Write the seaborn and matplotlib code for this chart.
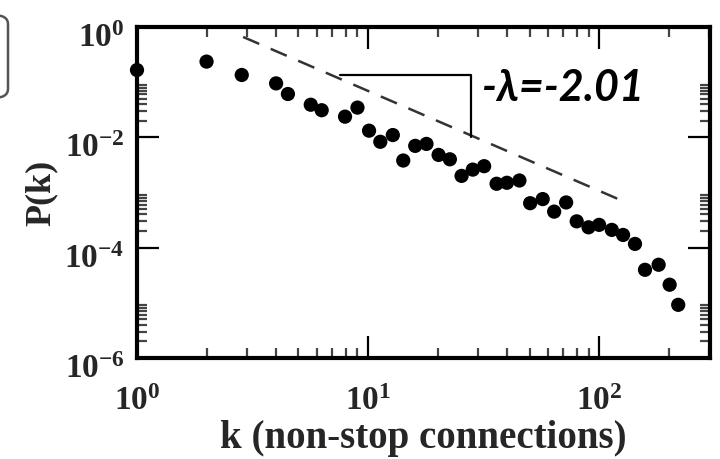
import numpy as np
import pandas as pd
import matplotlib
matplotlib.use("Agg")
import matplotlib.pyplot as plt
from matplotlib.patches import FancyBboxPatch
import matplotlib.transforms as mtrans
import seaborn as sns

# ---- data ----
k_vals = [1.0, 2.0, 2.84, 4.0, 4.5, 5.65, 6.3, 7.95, 9.0, 10.1, 11.3, 12.8, 14.2,
          16.0, 17.9, 20.2, 22.6, 25.4, 28.4, 31.8, 36.0, 39.9, 45.2, 50.3, 57.0,
          63.9, 72.0, 80.0, 90.0, 100.0, 113.5, 127.0, 143.0, 158.0, 181.0, 202.0, 220.0]
p_vals = [0.166, 0.236, 0.135, 0.095, 0.061, 0.039, 0.031, 0.0237, 0.0346, 0.0132,
          0.0083, 0.011, 0.0038, 0.0070, 0.0076, 0.0048, 0.0040, 0.0020, 0.0026,
          0.0030, 0.00144, 0.0015, 0.00165, 0.00064, 0.00076, 0.00045, 0.00066,
          0.00030, 0.000234, 0.000259, 0.00021, 0.00017, 0.000117, 0.0000397,
          0.000049, 0.0000213, 0.0000092]

guide_k = [2.88, 132.0]          # dashed power-law guide
guide_p = [0.66, 6.5e-4]
tri_k = [7.57, 27.9, 27.9]       # slope triangle legs
tri_p = [0.135, 0.135, 0.0102]
slope_label = "-λ=-2.01"

x_major = [1, 10, 100]
x_labels = [r"$\mathbf{10^{0}}$", r"$\mathbf{10^{1}}$", r"$\mathbf{10^{2}}$"]
y_major = [1e-6, 1e-4, 1e-2, 1e0]
y_labels = [r"$\mathbf{10^{-6}}$", r"$\mathbf{10^{-4}}$", r"$\mathbf{10^{-2}}$", r"$\mathbf{10^{0}}$"]
x_label = "k (non-stop connections)"
y_label = "P(k)"

df = pd.DataFrame({"k": k_vals, "P": p_vals})

sns.set_theme(style="ticks")
plt.rcParams["mathtext.fontset"] = "custom"
plt.rcParams["mathtext.rm"] = "Liberation Serif:bold"
plt.rcParams["mathtext.bf"] = "Liberation Serif:bold"
plt.rcParams["mathtext.it"] = "Liberation Serif:bold:italic"

fig = plt.figure(figsize=(7.2, 4.59), dpi=100)
ax = fig.add_axes([137/720, 1 - 358/459, (710-137)/720, (358-27)/459])

ax.set_xscale("log")
ax.set_yscale("log")

sns.scatterplot(data=df, x="k", y="P", ax=ax, color="black", s=105,
                edgecolor="none", linewidth=0, zorder=3, clip_on=False)

ax.plot(guide_k, guide_p, color="#333333", lw=1.8, dashes=(7, 5))
ax.plot(tri_k, tri_p, color="black", lw=1.6)

ax.text(0.602, 0.875, slope_label, transform=ax.transAxes,
        family=["Lato", "DejaVu Sans"], fontweight="bold", fontstyle="italic",
        fontsize=31, color="black", va="top", ha="left")

ax.set_xlim(1, 10**2.48)
ax.set_ylim(1e-6, 1)

ax.set_xticks(x_major)
ax.set_xticklabels(x_labels)
ax.set_yticks(y_major)
ax.set_yticklabels(y_labels)

x_minor = [m * 10.0**e for e in (0, 1, 2) for m in range(2, 10) if m * 10.0**e < 10**2.48]
y_minor = [m * 10.0**e for e in (-6, -4, -2) for m in range(2, 10)]
ax.set_xticks(x_minor, minor=True)
ax.set_yticks(y_minor, minor=True)
ax.tick_params(which="minor", labelbottom=False, labelleft=False)

ax.tick_params(which="major", direction="in", length=16, width=1.6,
               top=True, right=True, labelsize=24, color="black")
ax.tick_params(axis="x", which="major", pad=19)
ax.tick_params(axis="y", which="major", pad=9)
ax.tick_params(which="minor", direction="in", length=7, width=1.6,
               top=True, right=True, color="#444444")

# y tick labels sit a little below their ticks in the reference
shift = mtrans.ScaledTranslation(0, -7/100, fig.dpi_scale_trans)
for lab in ax.get_yticklabels():
    lab.set_transform(lab.get_transform() + shift)

for side, sp in ax.spines.items():
    sp.set_visible(True)
    sp.set_linewidth(3.0)
    sp.set_color("black")

ax.set_xlabel(x_label, family="Liberation Serif", fontweight="bold",
              fontsize=28, labelpad=2)
ax.set_ylabel(y_label, family="Liberation Serif", fontweight="bold",
              fontsize=26, labelpad=5)

# partially visible panel-label box at the left edge
box = FancyBboxPatch((-60/720, 1 - 98/459), 68/720, 83/459,
                     boxstyle="round,pad=0,rounding_size=0.02",
                     transform=fig.transFigure, facecolor="white",
                     edgecolor="#555555", linewidth=1.8, clip_on=False)
fig.patches.append(box)

fig.savefig("out.png", dpi=100, facecolor="white")
